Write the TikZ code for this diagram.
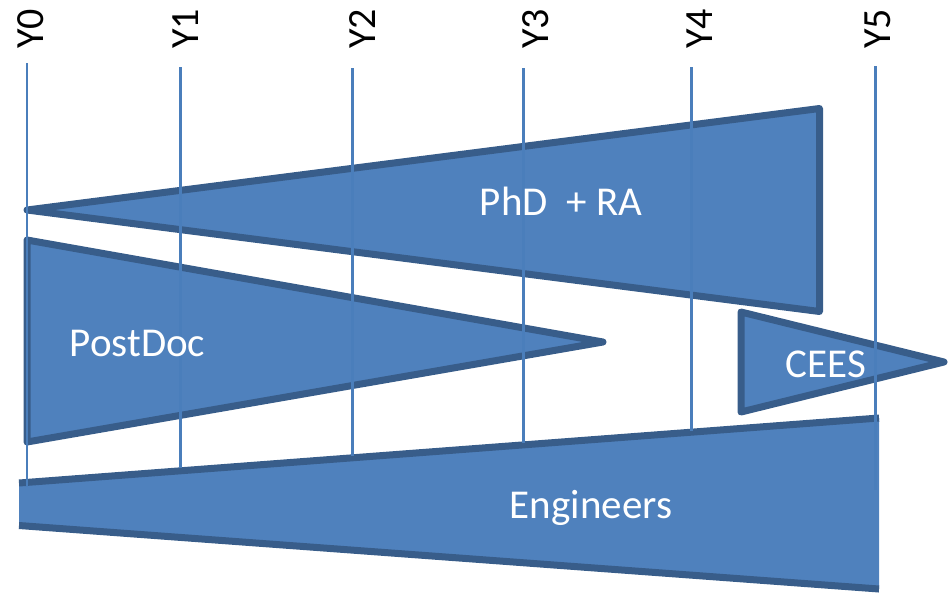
\documentclass[tikz,border=0pt]{standalone}
\usepackage{fontspec}
\setmainfont{Carlito}
\definecolor{barfill}{HTML}{4F81BD}
\definecolor{barline}{HTML}{385D8A}
\definecolor{yearline}{HTML}{4A7EBB}
\begin{document}
\begin{tikzpicture}[x=1pt,y=-1pt,
  bar/.style={fill=barfill,draw=barline,line width=7pt,line join=round},
  barfillonly/.style={fill=barfill},
  baredge/.style={draw=barline,line width=7pt,line cap=butt},
  yearmark/.style={draw=yearline,line width=3pt},
  yearlabel/.style={rotate=90,anchor=base,inner sep=0pt,font=\fontsize{40}{40}\selectfont,text=black},
  barlabel/.style={anchor=base,inner sep=0pt,font=\fontsize{41}{41}\selectfont,text=white}]
\useasboundingbox (0,0) rectangle (950,595);

% PhD + RA wedge
\draw[bar] (27,210) -- (819.5,108.5) -- (819.5,311.5) -- cycle;
% PostDoc wedge
\draw[bar] (27,240) -- (27,442) -- (603,342) -- cycle;
% CEES wedge
\draw[bar] (741,312) -- (741,412) -- (944,362) -- cycle;
% Engineers band (open on both ends)
\fill[barfillonly] (19,483) -- (879,418) -- (879,589) -- (19,525.5) -- cycle;
\draw[baredge] (19,483) -- (879,418);
\draw[baredge] (19,525.5) -- (879,589);

% year markers
\coordinate (t0) at (27,63);  \coordinate (b0) at (27,487);
\coordinate (t1) at (180,67); \coordinate (b1) at (180,468);
\coordinate (t2) at (352,68); \coordinate (b2) at (352,456);
\coordinate (t3) at (523,68); \coordinate (b3) at (523,443);
\coordinate (t4) at (691,67); \coordinate (b4) at (691,431);
\coordinate (t5) at (875,66); \coordinate (b5) at (875,490);
\draw[yearmark,line width=2pt] (t0) -- (b0);
\foreach \i in {1,...,5} {\draw[yearmark] (t\i) -- (b\i);}

% year labels
\node[yearlabel] (y0) at (43,29) {Y0};
\node[yearlabel] (y1) at (198,29) {Y1};
\node[yearlabel] (y2) at (375,29) {Y2};
\node[yearlabel] (y3) at (548,29) {Y3};
\node[yearlabel] (y4) at (712,29) {Y4};
\node[yearlabel] (y5) at (890,29) {Y5};

% wedge labels
\node[barlabel] (phd) at (561,215) {PhD \ + RA};
\node[barlabel] (postdoc) at (137.5,356) {PostDoc};
\node[barlabel] (cees) at (826,377) {CEES};
\node[barlabel] (eng) at (591,518) {Engineers};
\end{tikzpicture}
\end{document}
